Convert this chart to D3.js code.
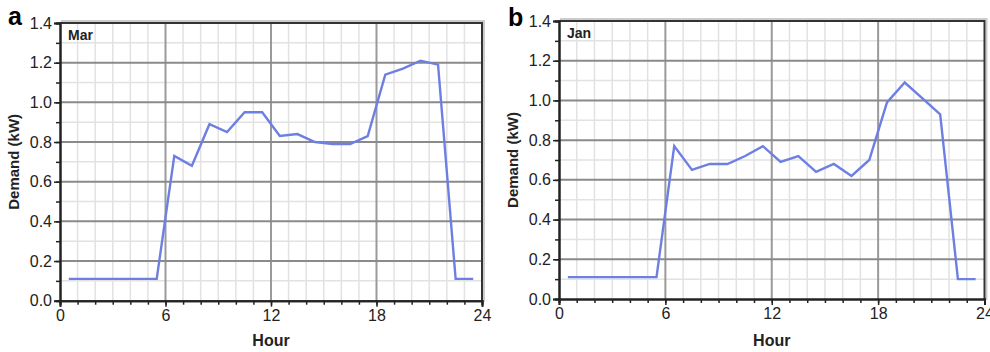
<!DOCTYPE html>
<html><head><meta charset="utf-8">
<script src="https://cdn.jsdelivr.net/npm/d3@7"></script>
<style>body{margin:0;background:#fff;}svg{display:block;font-family:"Liberation Sans",Arial,sans-serif;}</style>
</head><body>
<svg id="c" width="990" height="352"></svg>
<script>
const hours = [0.5,1.5,2.5,3.5,4.5,5.5,6.5,7.5,8.5,9.5,10.5,11.5,12.5,13.5,14.5,15.5,16.5,17.5,18.5,19.5,20.5,21.5,22.5,23.5];
const marDemand = [0.11,0.11,0.11,0.11,0.11,0.11,0.73,0.68,0.89,0.85,0.95,0.95,0.83,0.84,0.80,0.79,0.79,0.83,1.14,1.17,1.21,1.19,0.11,0.11];
const janDemand = [0.11,0.11,0.11,0.11,0.11,0.11,0.77,0.65,0.68,0.68,0.72,0.77,0.69,0.72,0.64,0.68,0.62,0.70,0.99,1.09,1.01,0.93,0.10,0.10];
const xTicks = [0,6,12,18,24];
const yTicks = [0.0,0.2,0.4,0.6,0.8,1.0,1.2,1.4];
const panels = [
  {letter:"a", month:"Mar", data:marDemand, left:60, right:482, top:23, bottom:300.7, lx:8, ly:25},
  {letter:"b", month:"Jan", data:janDemand, left:559, right:984.5, top:21, bottom:299, lx:508, ly:26}
];
const svg = d3.select("#c");
panels.forEach(p => {
  const x = d3.scaleLinear().domain([0,24]).range([p.left,p.right]);
  const y = d3.scaleLinear().domain([0,1.4]).range([p.bottom,p.top]);
  const g = svg.append("g");
  g.append("rect").attr("x",p.left+2).attr("y",p.top-2).attr("width",p.right-p.left).attr("height",p.bottom-p.top+2)
    .attr("fill","none").attr("stroke","#ccc").attr("stroke-width",2);
  g.append("rect").attr("x",p.left).attr("y",p.top).attr("width",p.right-p.left).attr("height",p.bottom-p.top).attr("fill","#fff");
  const minorX = d3.range(1,24).filter(h=>h%6!==0);
  const minorY = d3.range(1,14).filter(v=>v%2!==0).map(v=>v/10);
  g.selectAll(".mx").data(minorX).join("line").attr("x1",d=>x(d)).attr("x2",d=>x(d)).attr("y1",p.top).attr("y2",p.bottom)
    .attr("stroke","#e2e2e2").attr("stroke-width",1.5);
  g.selectAll(".my").data(minorY).join("line").attr("y1",d=>y(d)).attr("y2",d=>y(d)).attr("x1",p.left).attr("x2",p.right)
    .attr("stroke","#e2e2e2").attr("stroke-width",1.5);
  g.selectAll(".Mx").data([6,12,18]).join("line").attr("x1",d=>x(d)).attr("x2",d=>x(d)).attr("y1",p.top).attr("y2",p.bottom)
    .attr("stroke","#9a9a9a").attr("stroke-width",2);
  g.selectAll(".My").data([0.2,0.4,0.6,0.8,1.0,1.2]).join("line").attr("y1",d=>y(d)).attr("y2",d=>y(d)).attr("x1",p.left).attr("x2",p.right)
    .attr("stroke","#8a8a8a").attr("stroke-width",2);
  g.append("path").attr("d",`M${p.left},${p.top}H${p.right}V${p.bottom}`).attr("fill","none").attr("stroke","#333").attr("stroke-width",2);
  const line = d3.line().x((d,i)=>x(hours[i])).y(d=>y(d));
  g.append("path").datum(p.data).attr("d",line).attr("fill","none").attr("stroke","#6d7fe3").attr("stroke-width",2.4);
  const xAxis = d3.axisBottom(x).tickValues(xTicks).tickFormat(d3.format("d")).tickSize(6).tickPadding(3);
  const xMinor = d3.axisBottom(x).tickValues(d3.range(0,25)).tickFormat("").tickSize(4);
  const yAxis = d3.axisLeft(y).tickValues(yTicks).tickFormat(d3.format(".1f")).tickSize(6).tickPadding(2);
  const yMinor = d3.axisLeft(y).tickValues(d3.range(0,15).map(v=>v/10)).tickFormat("").tickSize(4);
  [xMinor,xAxis].forEach(a=>{
    const ag = g.append("g").attr("transform",`translate(0,${p.bottom})`).call(a);
    ag.select(".domain").attr("stroke","#222").attr("stroke-width",2);
    ag.selectAll("line").attr("stroke","#222").attr("stroke-width",1.5);
    ag.selectAll("text").attr("font-size",16).attr("fill","#222").attr("font-family","Liberation Sans, Arial");
  });
  [yMinor,yAxis].forEach(a=>{
    const ag = g.append("g").attr("transform",`translate(${p.left},0)`).call(a);
    ag.select(".domain").attr("stroke","#222").attr("stroke-width",2);
    ag.selectAll("line").attr("stroke","#222").attr("stroke-width",1.5);
    ag.selectAll("text").attr("font-size",16).attr("fill","#222").attr("font-family","Liberation Sans, Arial").attr("textLength",null);
  });
  g.append("text").attr("x",(p.left+p.right)/2).attr("y",346).attr("text-anchor","middle")
    .attr("font-size",16).attr("font-weight","bold").attr("fill","#222").text("Hour");
  g.append("text").attr("transform",`translate(${p.left-41},${(p.top+p.bottom)/2}) rotate(-90)`).attr("text-anchor","middle")
    .attr("font-size",15).attr("font-weight","bold").attr("fill","#222").text("Demand (kW)");
  g.append("text").attr("x",p.left+8).attr("y",p.top+17).attr("font-size",14).attr("font-weight","bold").attr("fill","#222").text(p.month);
  g.append("text").attr("x",p.lx).attr("y",p.ly).attr("font-size",25).attr("font-weight","bold").attr("fill","#000").text(p.letter);
});
</script>
</body></html>
